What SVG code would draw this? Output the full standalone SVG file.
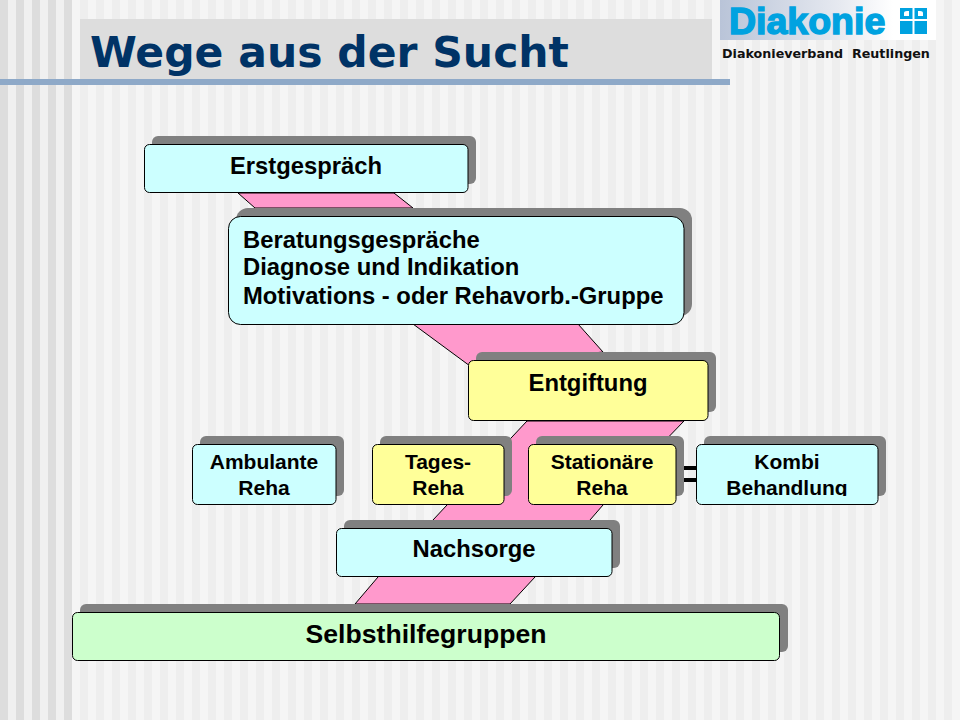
<svg xmlns="http://www.w3.org/2000/svg" width="960" height="720" viewBox="0 0 960 720">
<style>
.s{fill:#808080}
.b{stroke:#000;stroke-width:1}
.c{fill:#ccffff}
.y{fill:#ffff99}
.g{fill:#ccffcc}
text{font-family:"Liberation Sans",Arial,sans-serif;font-weight:700;fill:#000}
.m{text-anchor:middle}
.t22{font-size:23.800px}
.t19{font-size:21px}
.t24{font-size:26.600px}
</style>
<defs>
<pattern id="st" width="16" height="16" patternUnits="userSpaceOnUse"><rect width="16" height="16" fill="#f5f5f5"/><rect width="8" height="16" fill="#eeeeee"/></pattern>
<pattern id="sl" width="16" height="16" patternUnits="userSpaceOnUse"><rect width="16" height="16" fill="#f0f0f0"/><rect width="8" height="16" fill="#dddddd"/></pattern>
<linearGradient id="lg" x1="0" x2="1" y1="0" y2="0"><stop offset="0" stop-color="#b9c4d8"/><stop offset=".55" stop-color="#e6e9f0"/><stop offset=".8" stop-color="#ffffff"/></linearGradient>
<clipPath id="kc"><rect x="696" y="444" width="182" height="52"/></clipPath>
</defs>
<rect width="960" height="720" fill="#f5f5f5"/>
<rect x="80" width="880" height="720" fill="url(#st)"/>
<rect width="72" height="720" fill="url(#sl)"/>
<rect x="80" y="19" width="632" height="61" fill="#dddddd"/>
<rect x="0" y="79" width="730" height="6" fill="#8ea9c8"/>
<text x="90" y="67" style="font-family:'DejaVu Sans',Verdana,sans-serif;font-size:42.500px;fill:#003366">Wege aus der Sucht</text>
<g id="logo">
<rect x="720" width="216" height="40" fill="url(#lg)"/>
<text x="729" y="34" style="font-size:37.500px;fill:#00a2e0;stroke:#00a2e0;stroke-width:1.500">Diakonie</text>
<path d="M900 8h27v26h-27z" fill="#00a2e0"/>
<path d="M900 19h27v2h-27zM912.500 8h2v26h-2z" fill="#fff"/>
<path d="M904 16v-3q0-2 3-2h2v5zM923 16v-3q0-2-3-2h-2v5z" fill="#fff"/>
<text x="722" y="58" style="font-family:'DejaVu Sans',Verdana,sans-serif;font-size:12.700px;white-space:pre;fill:#111" xml:space="preserve">Diakonieverband  Reutlingen</text>
</g>
<g id="connectors" fill="#ff99cc" stroke="#000" stroke-width="1">
<polygon points="238,193 394,193 413,208 255,208"/>
<polygon points="413,324 578,324 603,352 470,366"/>
<polygon points="527,421 684,421 603,505 590,520 535,577 510,604 355,604 378,577 433,520 447,505 512,437"/>
<rect x="684" y="466" width="12" height="4" fill="#000" stroke="none"/>
<rect x="684" y="478" width="12" height="4" fill="#000" stroke="none"/>
</g>
<g id="erst"><rect class="s" x="152" y="136" width="324" height="48" rx="6"/><rect class="c b" x="144.500" y="144.500" width="323.500" height="48" rx="5"/><text class="m t22" x="306" y="174">Erstgespräch</text></g>
<g id="beratung"><rect class="s" x="236" y="208" width="456" height="108" rx="12"/><rect class="c b" x="228.500" y="216.500" width="455.500" height="108" rx="12"/><text class="t22" x="243" y="248">Beratungsgespräche</text><text class="t22" x="243" y="275">Diagnose und Indikation</text><text class="t22" x="243" y="304">Motivations - oder Rehavorb.-Gruppe</text></g>
<g id="entgiftung"><rect class="s" x="476" y="352" width="240" height="60" rx="6"/><rect class="y b" x="468.500" y="360.500" width="239.500" height="60" rx="5"/><text class="m t22" x="588" y="391">Entgiftung</text></g>
<g id="ambulant"><rect class="s" x="200" y="436" width="144" height="60" rx="6"/><rect class="c b" x="192.500" y="444.500" width="143.500" height="60" rx="5"/><text class="m t19" x="264" y="469">Ambulante</text><text class="m t19" x="264" y="495">Reha</text></g>
<g id="tages"><rect class="s" x="380" y="436" width="132" height="60" rx="6"/><rect class="y b" x="372.500" y="444.500" width="131.500" height="60" rx="5"/><text class="m t19" x="438" y="469">Tages-</text><text class="m t19" x="438" y="495">Reha</text></g>
<g id="stationaer"><rect class="s" x="536" y="436" width="148" height="60" rx="6"/><rect class="y b" x="528.500" y="444.500" width="147.500" height="60" rx="5"/><text class="m t19" x="602" y="469">Stationäre</text><text class="m t19" x="602" y="495">Reha</text></g>
<g id="kombi"><rect class="s" x="704" y="436" width="182" height="60" rx="6"/><rect class="c b" x="696.500" y="444.500" width="181.500" height="60" rx="5"/><text class="m t19" x="787" y="469">Kombi</text><text class="m t19" x="787" y="495" clip-path="url(#kc)">Behandlung</text></g>
<g id="nachsorge"><rect class="s" x="344" y="520" width="276" height="48" rx="6"/><rect class="c b" x="336.500" y="528.500" width="275.500" height="48" rx="5"/><text class="m t22" x="474" y="557">Nachsorge</text></g>
<g id="selbsthilfe"><rect class="s" x="80" y="604" width="708" height="48" rx="6"/><rect class="g b" x="72.500" y="612.500" width="707" height="48" rx="5"/><text class="m t24" x="426" y="643">Selbsthilfegruppen</text></g>
</svg>
